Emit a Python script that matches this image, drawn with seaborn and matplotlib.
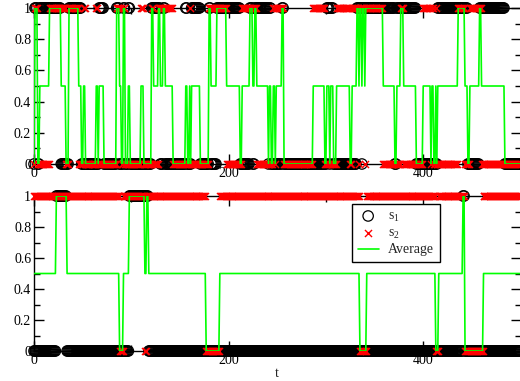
import numpy as np
import pandas as pd
import matplotlib
matplotlib.use('Agg')
import matplotlib.pyplot as plt
from matplotlib.ticker import MultipleLocator, FuncFormatter
import seaborn as sns

# ---- data: (start time, s1, s2) for each run of constant state ----
n_steps = 501

top_start = [0, 1, 4, 6, 16, 28, 33, 36, 46, 49, 51, 53, 64, 66, 67, 72, 85, 88, 90, 92,
             94, 97, 99, 110, 113, 121, 123, 128, 130, 133, 135, 143, 156, 158, 160, 161,
             162, 171, 180, 182, 188, 198, 212, 214, 222, 225, 227, 229, 241, 242, 244,
             246, 248, 249, 255, 257, 287, 299, 301, 304, 305, 308, 311, 325, 327, 332,
             334, 335, 337, 338, 340, 341, 359, 371, 373, 377, 380, 393, 400, 408, 409,
             411, 413, 414, 415, 436, 443, 446, 448, 458, 460, 484]
top_s1 = [0, 1, 0, 1, 1, 0, 0, 1, 1, 0, 0, 0, 0, 0, 1, 0, 1, 0, 0, 1,
          0, 1, 0, 0, 0, 1, 1, 1, 0, 1, 0, 0, 1, 0, 0, 0,
          1, 0, 1, 0, 1, 1, 0, 0, 1, 0, 1, 1, 0, 1, 0,
          0, 0, 0, 1, 0, 0, 0, 1, 0, 1, 0, 0, 0, 0, 1,
          1, 1, 0, 1, 1, 1, 1, 0, 1, 1, 1, 0, 0, 0, 0,
          0, 0, 0, 1, 1, 1, 0, 0, 1, 1, 0]
top_s2 = [0, 1, 0, 0, 1, 1, 0, 1, 0, 0, 1, 0, 1, 0, 0, 0, 1, 1, 0, 1,
          0, 0, 0, 1, 0, 1, 0, 1, 1, 1, 1, 0, 0, 0, 1, 0,
          0, 0, 1, 1, 1, 0, 0, 1, 1, 1, 1, 0, 0, 0, 0,
          1, 0, 1, 1, 0, 1, 0, 0, 0, 0, 0, 1, 0, 1, 1,
          0, 1, 1, 1, 0, 1, 0, 0, 0, 1, 0, 0, 1, 0, 1,
          0, 1, 0, 0, 1, 0, 0, 1, 1, 0, 0]

bot_start = [0, 23, 34, 88, 92, 98, 114, 116, 118, 177, 191, 335, 342, 413, 416, 441, 443, 462]
bot_s1 = [0, 1, 0, 0, 0, 1, 1, 1, 0, 0, 0, 0, 0, 0, 0, 1, 0, 0]
bot_s2 = [1, 1, 1, 0, 1, 1, 0, 1, 1, 0, 1, 0, 1, 0, 1, 1, 0, 1]


def expand(starts, vals):
    out = np.zeros(n_steps)
    for i, st in enumerate(starts):
        end = starts[i + 1] if i + 1 < len(starts) else n_steps
        out[st:end] = vals[i]
    return out


def make_df(starts, s1, s2):
    df = pd.DataFrame({'t': np.arange(n_steps),
                       's1': expand(starts, s1),
                       's2': expand(starts, s2)})
    df['avg'] = (df['s1'] + df['s2']) / 2
    return df


df_top = make_df(top_start, top_s1, top_s2)
df_bot = make_df(bot_start, bot_s1, bot_s2)

# ---- plotting ----
sns.set_style('ticks')
plt.rcParams['font.family'] = ['Liberation Serif', 'DejaVu Serif']
plt.rcParams['mathtext.fontset'] = 'custom'
plt.rcParams['mathtext.rm'] = 'Liberation Serif'
plt.rcParams['mathtext.it'] = 'Liberation Serif:italic'
plt.rcParams['font.size'] = 10

fig = plt.figure(figsize=(5.2, 3.81), dpi=100)
ax1 = fig.add_axes([34 / 520, 1 - 164 / 381, 486.5 / 520, 156 / 381])
ax2 = fig.add_axes([34 / 520, 1 - 351 / 381, 486.5 / 520, 155 / 381])

for ax, df, show_leg in [(ax1, df_top, False), (ax2, df_bot, True)]:
    sns.scatterplot(data=df, x='t', y='s1', marker='o', s=56, color='black',
                    facecolors='none', edgecolors='black', linewidth=0.9,
                    clip_on=False, ax=ax, label='s$_1$' if show_leg else None,
                    legend=False, zorder=3)
    sns.scatterplot(data=df, x='t', y='s2', marker='x', s=26, color='red',
                    linewidth=1.0, clip_on=False, ax=ax,
                    label='s$_2$' if show_leg else None, legend=False, zorder=4)
    sns.lineplot(data=df, x='t', y='avg', color='#00ff00', lw=1.2, ax=ax,
                 label='Average' if show_leg else None, legend=False, zorder=5)

    ax.set_xlim(0, 500)
    ax.set_ylim(0, 1)
    ax.xaxis.set_major_locator(MultipleLocator(200))
    ax.xaxis.set_minor_locator(MultipleLocator(100))
    ax.yaxis.set_major_locator(MultipleLocator(0.2))
    ax.yaxis.set_minor_locator(MultipleLocator(0.1))
    ax.yaxis.set_major_formatter(FuncFormatter(lambda v, p: '%g' % round(v, 2)))
    ax.tick_params(which='both', direction='in', top=True, right=True,
                   width=1, colors='black', labelsize=10, pad=2)
    ax.tick_params(which='major', length=7)
    ax.tick_params(which='minor', length=4)
    for sp in ax.spines.values():
        sp.set_visible(True)
        sp.set_linewidth(1)
        sp.set_color('black')
    ax.set_ylabel('')
    ax.set_xlabel('')

ax2.set_xlabel('t', fontsize=10, labelpad=0)
leg = ax2.legend(loc='upper left', bbox_to_anchor=(0.654, 0.948), borderaxespad=0,
                 frameon=True, fancybox=False, edgecolor='black', framealpha=1,
                 fontsize=10, handlelength=1.5, borderpad=0.4, labelspacing=0.2,
                 handletextpad=0.7)
leg.get_frame().set_linewidth(1)

fig.savefig('out.png', dpi=100)
